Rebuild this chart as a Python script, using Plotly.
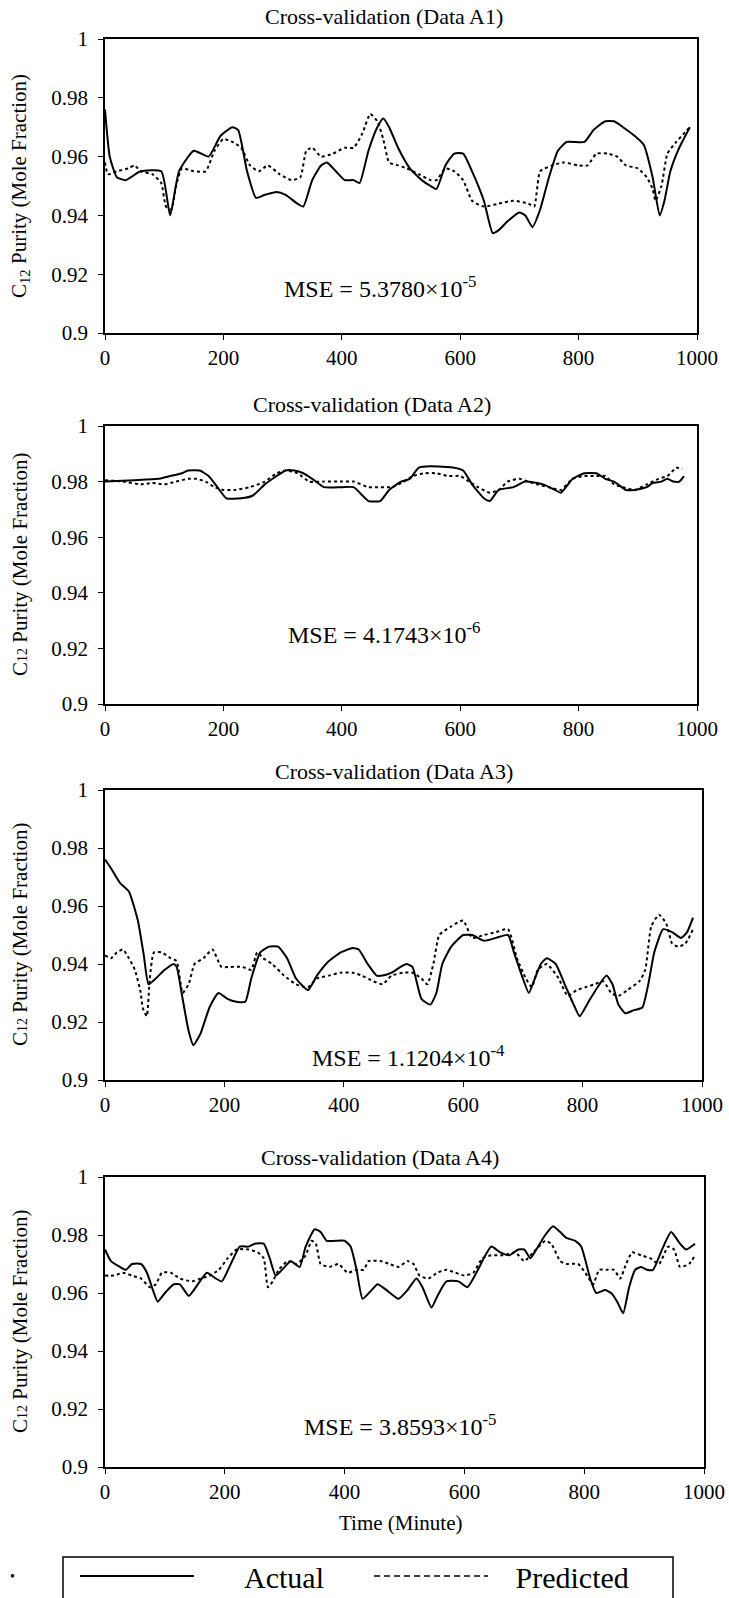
import plotly.graph_objects as go

# ---------------- Data ----------------
# Panel A1
a1_t_act = [0, 8, 20, 35, 60, 95, 110, 125, 150, 175, 195, 215, 225, 240, 255, 270, 290, 305, 325, 335,
            350, 365, 375, 390, 405, 420, 430, 445, 460, 470, 480, 495, 515, 535, 550, 560, 575, 590, 605,
            620, 640, 655, 665, 680, 700, 710, 722, 735, 750, 765, 780, 810, 825, 845, 860, 875, 895, 910,
            925, 937, 945, 955, 970, 988]
a1_act = [0.976, 0.960, 0.953, 0.952, 0.955, 0.955, 0.940, 0.955, 0.962, 0.960, 0.967, 0.970, 0.969, 0.955,
          0.946, 0.947, 0.948, 0.947, 0.944, 0.943, 0.952, 0.957, 0.958, 0.955, 0.952, 0.952, 0.951, 0.962,
          0.970, 0.973, 0.970, 0.963, 0.956, 0.952, 0.950, 0.949, 0.957, 0.961, 0.961, 0.955, 0.945, 0.934,
          0.935, 0.938, 0.941, 0.940, 0.936, 0.942, 0.953, 0.962, 0.965, 0.965, 0.969, 0.972, 0.972, 0.970,
          0.967, 0.964, 0.953, 0.940, 0.945, 0.955, 0.963, 0.970]
a1_t_pred = [0, 5, 20, 40, 50, 60, 80, 95, 103, 112, 120, 130, 150, 170, 185, 200, 215, 230, 245, 260, 275,
             295, 315, 330, 340, 350, 365, 385, 405, 420, 435, 448, 460, 470, 480, 495, 510, 530, 550, 560,
             575, 590, 605, 620, 640, 665, 690, 715, 725, 735, 755, 775, 800, 815, 830, 850, 865, 880, 900,
             915, 925, 930, 940, 950, 965, 988]
a1_pred = [0.958, 0.954, 0.955, 0.956, 0.957, 0.955, 0.954, 0.951, 0.943, 0.942, 0.950, 0.956, 0.955, 0.955,
           0.962, 0.966, 0.965, 0.963, 0.957, 0.955, 0.957, 0.954, 0.952, 0.953, 0.962, 0.963, 0.960, 0.961,
           0.963, 0.963, 0.968, 0.9745, 0.972, 0.966, 0.958, 0.957, 0.956, 0.954, 0.952, 0.952, 0.956, 0.955,
           0.952, 0.945, 0.943, 0.944, 0.945, 0.944, 0.943, 0.955, 0.957, 0.958, 0.957, 0.957, 0.961, 0.961,
           0.960, 0.957, 0.956, 0.953, 0.949, 0.945, 0.950, 0.961, 0.965, 0.970]

# Panel A2
a2_t_act = [0, 50, 90, 110, 130, 140, 160, 175, 190, 205, 230, 250, 270, 290, 305, 320, 335, 350, 370, 400,
            420, 435, 445, 465, 480, 500, 515, 530, 550, 590, 605, 620, 640, 650, 665, 690, 710, 740, 760,
            770, 790, 810, 830, 845, 860, 880, 895, 915, 925, 940, 950, 960, 970, 978]
a2_act = [0.980, 0.9805, 0.981, 0.982, 0.983, 0.984, 0.984, 0.982, 0.978, 0.974, 0.974, 0.975, 0.979, 0.982,
          0.984, 0.984, 0.983, 0.981, 0.978, 0.978, 0.978, 0.975, 0.973, 0.973, 0.977, 0.980, 0.981, 0.985,
          0.9855, 0.985, 0.984, 0.979, 0.974, 0.973, 0.977, 0.978, 0.980, 0.979, 0.977, 0.976, 0.981, 0.983,
          0.983, 0.981, 0.980, 0.977, 0.977, 0.978, 0.9795, 0.980, 0.981, 0.980, 0.980, 0.982]
a2_t_pred = [0, 30, 60, 80, 100, 120, 140, 155, 170, 185, 200, 220, 245, 270, 290, 305, 325, 345, 370, 400,
             420, 445, 465, 485, 505, 520, 540, 560, 580, 600, 615, 630, 650, 665, 680, 700, 715, 730, 750,
             770, 790, 810, 830, 845, 860, 875, 895, 915, 935, 950, 965, 975]
a2_pred = [0.9805, 0.980, 0.979, 0.9795, 0.979, 0.980, 0.981, 0.981, 0.980, 0.978, 0.977, 0.977, 0.978, 0.980,
           0.983, 0.984, 0.983, 0.980, 0.980, 0.980, 0.980, 0.978, 0.978, 0.978, 0.980, 0.982, 0.983, 0.983,
           0.982, 0.982, 0.980, 0.978, 0.976, 0.977, 0.980, 0.981, 0.980, 0.979, 0.978, 0.977, 0.981, 0.982,
           0.982, 0.982, 0.979, 0.978, 0.977, 0.979, 0.981, 0.982, 0.985, 0.9845]

# Panel A3
a3_t_act = [0, 10, 25, 40, 55, 65, 73, 85, 100, 115, 120, 130, 140, 148, 160, 175, 190, 205, 220, 235, 245,
            260, 275, 290, 305, 320, 340, 355, 375, 395, 415, 425, 440, 455, 465, 480, 495, 505, 515, 530,
            545, 555, 565, 580, 600, 615, 635, 655, 675, 685, 700, 710, 720, 730, 740, 755, 770, 785, 795,
            810, 825, 840, 850, 860, 872, 885, 900, 910, 920, 935, 950, 965, 975, 985]
a3_act = [0.976, 0.973, 0.968, 0.965, 0.955, 0.943, 0.933, 0.935, 0.938, 0.940, 0.939, 0.928, 0.917, 0.912,
          0.916, 0.925, 0.930, 0.928, 0.927, 0.927, 0.935, 0.944, 0.946, 0.946, 0.942, 0.935, 0.931, 0.936,
          0.941, 0.944, 0.9455, 0.945, 0.940, 0.936, 0.936, 0.937, 0.939, 0.940, 0.939, 0.928, 0.926, 0.930,
          0.940, 0.946, 0.950, 0.950, 0.948, 0.949, 0.950, 0.944, 0.935, 0.930, 0.935, 0.940, 0.942, 0.940,
          0.933, 0.926, 0.922, 0.927, 0.932, 0.936, 0.933, 0.926, 0.923, 0.924, 0.925, 0.933, 0.944, 0.952,
          0.951, 0.949, 0.951, 0.956]
a3_t_pred = [0, 10, 20, 30, 40, 50, 60, 63, 70, 75, 82, 95, 110, 120, 130, 140, 150, 165, 180, 195, 210, 230,
             245, 255, 265, 280, 300, 320, 340, 355, 375, 395, 415, 430, 450, 465, 480, 500, 515, 530, 540,
             550, 560, 580, 600, 615, 635, 655, 675, 690, 705, 715, 725, 740, 760, 775, 790, 805, 820, 835,
             848, 860, 875, 895, 905, 915, 928, 940, 950, 960, 972, 985]
a3_pred = [0.943, 0.942, 0.944, 0.945, 0.942, 0.938, 0.930, 0.925, 0.922, 0.935, 0.944, 0.944, 0.942, 0.941,
           0.930, 0.933, 0.940, 0.942, 0.945, 0.939, 0.939, 0.939, 0.938, 0.944, 0.942, 0.940, 0.936, 0.933,
           0.932, 0.935, 0.936, 0.937, 0.937, 0.936, 0.934, 0.933, 0.936, 0.937, 0.937, 0.935, 0.933, 0.940,
           0.950, 0.953, 0.955, 0.949, 0.950, 0.951, 0.952, 0.942, 0.935, 0.932, 0.938, 0.940, 0.935, 0.929,
           0.931, 0.932, 0.933, 0.934, 0.930, 0.929, 0.931, 0.934, 0.938, 0.953, 0.957, 0.954, 0.947, 0.946,
           0.947, 0.952]

# Panel A4
a4_t_act = [0, 10, 25, 35, 45, 60, 70, 80, 88, 100, 115, 125, 140, 155, 170, 185, 195, 210, 225, 240, 250,
            265, 275, 285, 300, 310, 325, 335, 350, 360, 370, 385, 400, 410, 420, 430, 445, 455, 470, 490,
            505, 520, 530, 545, 555, 570, 590, 605, 620, 635, 645, 660, 675, 690, 700, 710, 720, 735, 748,
            760, 770, 785, 795, 810, 820, 835, 845, 855, 865, 875, 885, 895, 905, 915, 930, 945, 960, 970,
            985]
a4_act = [0.975, 0.971, 0.969, 0.968, 0.970, 0.970, 0.967, 0.961, 0.957, 0.960, 0.963, 0.963, 0.959, 0.963,
          0.967, 0.965, 0.964, 0.970, 0.976, 0.976, 0.977, 0.977, 0.972, 0.966, 0.969, 0.971, 0.969, 0.976,
          0.982, 0.981, 0.978, 0.978, 0.978, 0.976, 0.968, 0.958, 0.961, 0.963, 0.961, 0.958, 0.961, 0.965,
          0.962, 0.955, 0.959, 0.964, 0.964, 0.962, 0.967, 0.973, 0.976, 0.974, 0.973, 0.975, 0.975, 0.972,
          0.975, 0.980, 0.983, 0.981, 0.979, 0.978, 0.976, 0.965, 0.960, 0.961, 0.960, 0.957, 0.953, 0.962,
          0.968, 0.969, 0.968, 0.968, 0.975, 0.981, 0.977, 0.975, 0.977]
a4_t_pred = [0, 15, 30, 45, 60, 75, 85, 95, 110, 125, 145, 160, 175, 190, 205, 220, 240, 255, 265, 272, 280,
             290, 305, 320, 335, 345, 352, 360, 375, 390, 405, 420, 432, 440, 460, 475, 490, 505, 515, 525,
             540, 555, 570, 585, 600, 615, 630, 645, 665, 685, 700, 715, 735, 745, 760, 770, 790, 805, 815,
             825, 840, 850, 860, 870, 880, 895, 910, 925, 940, 950, 960, 975, 985]
a4_pred = [0.966, 0.966, 0.967, 0.966, 0.965, 0.962, 0.963, 0.967, 0.967, 0.965, 0.964, 0.965, 0.966, 0.968,
           0.972, 0.975, 0.975, 0.974, 0.972, 0.962, 0.964, 0.968, 0.971, 0.970, 0.973, 0.978, 0.977, 0.970,
           0.969, 0.970, 0.967, 0.968, 0.968, 0.971, 0.971, 0.970, 0.969, 0.971, 0.970, 0.966, 0.965, 0.967,
           0.968, 0.967, 0.966, 0.967, 0.972, 0.973, 0.973, 0.974, 0.971, 0.974, 0.978, 0.977, 0.971, 0.970,
           0.970, 0.966, 0.963, 0.968, 0.968, 0.968, 0.965, 0.970, 0.974, 0.973, 0.972, 0.970, 0.976, 0.975,
           0.969, 0.970, 0.973]

titles = ["Cross-validation (Data A1)", "Cross-validation (Data A2)",
          "Cross-validation (Data A3)", "Cross-validation (Data A4)"]
mse_labels = ["MSE = 5.3780×10<sup>-5</sup>", "MSE = 4.1743×10<sup>-6</sup>",
              "MSE = 1.1204×10<sup>-4</sup>", "MSE = 3.8593×10<sup>-5</sup>"]
ytitles = ["C<sub>12</sub> Purity (Mole Fraction)",
           "C<span style='font-size:14px'>12</span> Purity (Mole Fraction)",
           "C<span style='font-size:14px'>12</span> Purity (Mole Fraction)",
           "C<span style='font-size:14px'>12</span> Purity (Mole Fraction)"]
x_ticks = [0, 200, 400, 600, 800, 1000]
y_ticks = [0.9, 0.92, 0.94, 0.96, 0.98, 1.0]
y_ticktext = ["0.9", "0.92", "0.94", "0.96", "0.98", "1"]
legend_names = ["Actual", "Predicted"]

series = [(a1_t_act, a1_act, a1_t_pred, a1_pred),
          (a2_t_act, a2_act, a2_t_pred, a2_pred),
          (a3_t_act, a3_act, a3_t_pred, a3_pred),
          (a4_t_act, a4_act, a4_t_pred, a4_pred)]

# ---------------- Layout geometry (pixels) ----------------
W, H = 729, 1598
FONT = "Liberation Serif"


def fx(p):
    return p / W


def fy(p):
    return 1 - p / H


# plot boxes: (left, right, top, bottom) in px
boxes = [(105, 697, 39, 333), (105, 697, 426, 704), (105, 702, 790, 1080), (105, 704, 1177, 1467)]
title_pos = [(384, 16), (372, 405), (394, 771), (380, 1157)]
mse_pos = [(380, 287), (384, 633), (408, 1056), (400, 1425)]

PRED_DASH = "3px,3px"

fig = go.Figure()
layout = dict(
    width=W, height=H,
    margin=dict(l=0, r=0, t=0, b=0, autoexpand=False),
    paper_bgcolor="white", plot_bgcolor="white",
    font=dict(family=FONT, color="black"),
    showlegend=True,
    annotations=[], shapes=[],
)

for i, (box, (ta, ya, tp, yp)) in enumerate(zip(boxes, series)):
    n = "" if i == 0 else str(i + 1)
    l, r, t, b = box
    layout["xaxis" + n] = dict(
        domain=[fx(l), fx(r)], range=[0, 1000], anchor="y" + n,
        tickvals=x_ticks, ticks="outside", ticklen=5, tickwidth=1, tickcolor="black",
        showline=True, linecolor="black", linewidth=1.5, mirror=True,
        showgrid=False, zeroline=False, automargin=False, ticklabeloverflow="allow",
        tickfont=dict(family=FONT, size=21, color="black"),
    )
    layout["yaxis" + n] = dict(
        domain=[fy(b), fy(t)], range=[0.9, 1.0], anchor="x" + n,
        tickvals=y_ticks, ticktext=y_ticktext, ticks="outside", ticklen=5, tickwidth=1,
        tickcolor="black", ticklabelstandoff=6,
        showline=True, linecolor="black", linewidth=1.5, mirror=True,
        showgrid=False, zeroline=False, automargin=False,
        tickfont=dict(family=FONT, size=21, color="black"),
    )
    fig.add_trace(go.Scatter(x=ta, y=ya, mode="lines", xaxis="x" + n, yaxis="y" + n,
                             line=dict(color="black", width=2, shape="spline", smoothing=0.5),
                             showlegend=False, name="Actual"))
    fig.add_trace(go.Scatter(x=tp, y=yp, mode="lines", xaxis="x" + n, yaxis="y" + n,
                             line=dict(color="black", width=2, dash=PRED_DASH, shape="spline", smoothing=0.5),
                             showlegend=False, name="Predicted"))
    layout["annotations"].append(dict(
        text=titles[i], x=fx(title_pos[i][0]), y=fy(title_pos[i][1]), xref="paper", yref="paper",
        xanchor="center", yanchor="middle", showarrow=False, font=dict(family=FONT, size=22, color="black")))
    layout["annotations"].append(dict(
        text=mse_labels[i], x=fx(mse_pos[i][0]), y=fy(mse_pos[i][1]), xref="paper", yref="paper",
        xanchor="center", yanchor="middle", showarrow=False, font=dict(family=FONT, size=24, color="black")))
    layout["annotations"].append(dict(
        text=ytitles[i], x=fx(20), y=fy((t + b) / 2), xref="paper", yref="paper", textangle=-90,
        xanchor="center", yanchor="middle", showarrow=False, font=dict(family=FONT, size=21, color="black")))

layout["annotations"].append(dict(
    text="Time (Minute)", x=fx(400), y=fy(1523), xref="paper", yref="paper",
    xanchor="center", yanchor="middle", showarrow=False, font=dict(family=FONT, size=21, color="black")))
layout["annotations"].append(dict(
    text="•", x=fx(12), y=fy(1576), xref="paper", yref="paper",
    xanchor="center", yanchor="middle", showarrow=False, font=dict(family=FONT, size=14, color="black")))

# legend frame (cut by the bottom of the page like the original)
layout["shapes"].append(dict(type="rect", xref="paper", yref="paper",
                             x0=fx(63), x1=fx(673), y0=fy(1557), y1=fy(1640),
                             line=dict(color="black", width=1.5), fillcolor="rgba(0,0,0,0)"))

NB = "\u00a0"
fig.add_trace(go.Scatter(x=[None], y=[None], mode="lines", name=NB * 6 + legend_names[0],
                         line=dict(color="black", width=2)))
fig.add_trace(go.Scatter(x=[None], y=[None], mode="lines", name=NB * 3 + legend_names[1],
                         line=dict(color="black", width=1.5, dash="6px,4px")))

layout["legend"] = dict(
    orientation="h", x=fx(75), xanchor="left", y=fy(1576), yanchor="middle",
    font=dict(family=FONT, size=30, color="black"), itemwidth=114,
    entrywidth=165, entrywidthmode="pixels",
    bgcolor="rgba(0,0,0,0)", borderwidth=0, itemclick=False, itemdoubleclick=False,
)

fig.update_layout(**layout)
fig.write_html(
    "out.html",
    config={"displayModeBar": False},
    post_script="document.body.style.margin='0';document.body.style.padding='0';"
                "document.documentElement.style.overflow='hidden';document.body.style.overflow='hidden';",
)
